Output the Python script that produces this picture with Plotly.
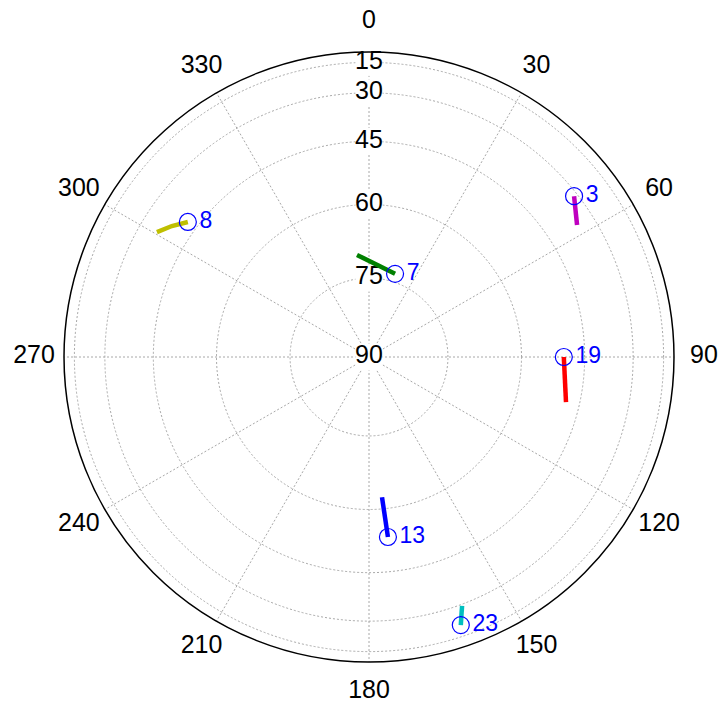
import numpy as np
import plotly.graph_objects as go

# Satellite data (azimuth deg, elevation deg); last point = current position
sat_ids = ["3", "19", "8", "7", "13", "23"]
sat_colors = ["#bf00bf", "#ff0000", "#bfbf00", "#008000", "#0000ff", "#00bfbf"]
track_az = [
    [57.6, 51.9],
    [102.9, 90.0],
    [300.5, 303.6, 306.7],
    [353.3, 17.4],
    [174.7, 174.0],
    [159.5, 161.1],
]
track_el = [
    [36.1, 31.3],
    [48.5, 50.3],
    [36.2, 39.1, 42.2],
    [70.3, 73.4],
    [62.5, 53.6],
    [29.4, 21.7],
]

elev_ticks = [15, 30, 45, 60, 75, 90]
elev_labels = ["15", "30", "45", "60", "75", "90"]
az_ticks = list(range(0, 360, 30))
az_labels = [str(a) for a in az_ticks]

FONT = "Liberation Sans, Arial"
W, H = 720, 704
CX, CY = 369, 347        # centre of plot in figure px (x from left, y from bottom)
R = 305                  # horizon radius in px
R_LAB = 335              # radius of azimuth label ring in px


def rad(el):
    return np.cos(np.radians(np.asarray(el, dtype=float)))


def dom(r):
    return dict(x=[(CX - r) / W, (CX + r) / W], y=[(CY - r) / H, (CY + r) / H])


fig = go.Figure()

# elevation labels with white background
fig.add_trace(go.Scatterpolar(
    r=rad(elev_ticks), theta=[0] * len(elev_ticks),
    mode="markers+text", text=elev_labels, textposition="middle center",
    marker=dict(symbol="square", size=27, color="white"),
    textfont=dict(family=FONT, size=25, color="black"),
    hoverinfo="skip", showlegend=False, subplot="polar",
))

for sid, col, az, el in zip(sat_ids, sat_colors, track_az, track_el):
    fig.add_trace(go.Scatterpolar(
        r=rad(el), theta=az, mode="lines",
        line=dict(color=col, width=4.5), showlegend=False, subplot="polar",
    ))
for sid, az, el in zip(sat_ids, track_az, track_el):
    fig.add_trace(go.Scatterpolar(
        r=rad([el[-1]]), theta=[az[-1]], mode="markers+text",
        text=[sid], textposition="middle right",
        marker=dict(symbol="circle-open", size=17, color="blue", line=dict(width=1.2)),
        textfont=dict(family=FONT, size=23, color="blue"),
        showlegend=False, subplot="polar",
    ))

# azimuth labels on an outer, invisible polar whose edge is the label ring
fig.add_trace(go.Scatterpolar(
    r=[1] * len(az_ticks), theta=az_ticks,
    mode="text", text=az_labels, textposition="middle center",
    textfont=dict(family=FONT, size=25, color="black"),
    cliponaxis=False, hoverinfo="skip", showlegend=False, subplot="polar2",
))

fig.update_layout(
    width=W, height=H,
    margin=dict(l=0, r=0, t=0, b=0),
    paper_bgcolor="white",
    polar=dict(
        bgcolor="white",
        domain=dom(R),
        radialaxis=dict(
            range=[0, 1], tickvals=list(rad(elev_ticks)), showticklabels=False,
            ticks="", showline=False, showgrid=True,
            gridcolor="#a8a8a8", griddash="2px,2px", gridwidth=1,
        ),
        angularaxis=dict(
            rotation=90, direction="clockwise",
            tickvals=az_ticks, showticklabels=False, ticks="",
            showline=True, linecolor="black", linewidth=1.5,
            showgrid=True, gridcolor="#a8a8a8", griddash="2px,2px", gridwidth=1,
        ),
    ),
    polar2=dict(
        bgcolor="rgba(0,0,0,0)",
        domain=dom(R_LAB),
        radialaxis=dict(range=[0, 1], visible=False, showgrid=False),
        angularaxis=dict(
            rotation=90, direction="clockwise", showline=False, showgrid=False,
            showticklabels=False, ticks="",
        ),
    ),
)

fig.write_html(
    "out.html",
    config={"displayModeBar": False},
    post_script="document.body.style.margin='0';document.body.style.overflow='hidden';",
)
